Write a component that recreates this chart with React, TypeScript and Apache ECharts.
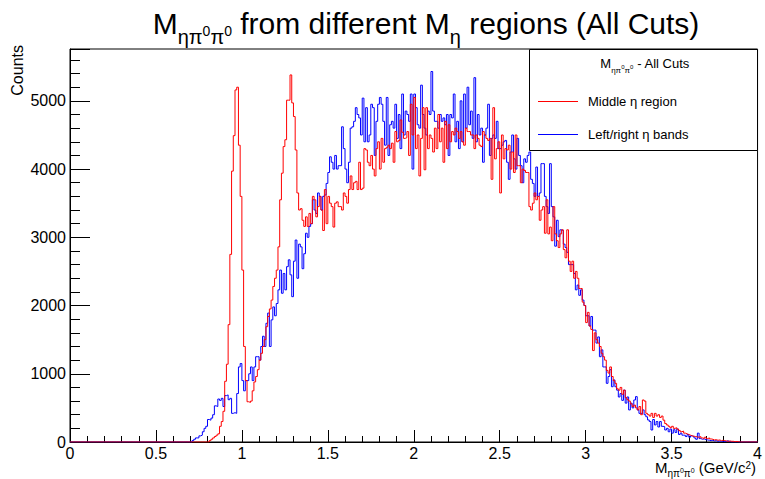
import React, { useEffect, useRef } from 'react';
import * as echarts from 'echarts';

const BIN_WIDTH = 0.01;
const N_BINS = 400;
const X_TICK_STEP = 0.5;
const Y_TICK_STEP = 1000;
const Y_MAX = 5760;

// Middle eta region (red), first bin low edge 0.80
const redStart = 0.8;
const redCounts = [
  0, 20, 40, 60, 80, 100, 120, 230, 300, 450,
  890, 1140, 1720, 2750, 3970, 4490, 5160, 5200, 4350, 3600,
  2520, 1400, 900, 590, 580, 600, 750, 880, 960, 1060,
  1200, 1300, 1400, 1500, 1690, 1840, 1950, 2080, 2280, 2400,
  2520, 2860, 3550, 3940, 4330, 4430, 5010, 5010, 5380, 4970,
  4770, 4280, 3650, 3400, 3420, 3250, 3160, 3300, 3160, 3350,
  3200, 3600, 3550, 3300, 3450, 3600, 3400, 3100, 3700, 3200,
  3600, 3500, 3450, 3150, 3500, 3520, 3450, 3450, 3400, 3650,
  3600, 3500, 3700, 3900, 3700, 3800, 3820, 3700, 4100, 3700,
  3720, 4300, 4280, 4100, 4050, 4200, 4000, 3900, 4300, 4400,
  4000, 4450, 4100, 4300, 4320, 4350, 4300, 4380, 4100, 4550,
  4400, 4420, 4720, 4540, 4450, 4460, 4550, 4200, 4950, 4500,
  5050, 4300, 4500, 3900, 4450, 4900, 3990, 4900, 4300, 4500,
  4450, 4250, 4600, 4300, 4800, 4400, 4600, 4100, 4700, 4300,
  4650, 4400, 4550, 4500, 4600, 4550, 4450, 4550, 4400, 4350,
  4600, 4550, 4550, 4500, 4500, 4300, 4500, 4450, 4350, 4330,
  4550, 4500, 4450, 4420, 4450, 3850, 4900, 4150, 4300, 4400,
  3650, 4500, 4150, 4300, 4280, 4350, 4000, 4250, 3950, 4500,
  4050, 4050, 3800, 4000, 3980, 3950, 3950, 3450, 3400, 3500,
  3650, 3550, 3600, 3250, 3400, 3450, 3060, 3550, 3050, 3150,
  2950, 3450, 3050, 2950, 2850, 3050, 3110, 2820, 2700, 3110,
  2650, 2500, 2650, 2400, 2500, 2400, 2250, 2250, 2050, 2000,
  1750, 1900, 1700, 1650, 1340, 1600, 1500, 1450, 1400, 1300,
  1250, 1200, 1050, 1010, 1100, 960, 900, 860, 780, 760,
  800, 700, 760, 650, 620, 600, 560, 520, 540, 500,
  470, 520, 400, 616, 600, 420, 400, 380, 420, 360,
  420, 380, 400, 360, 380, 320, 270, 250, 230, 210,
  230, 200, 210, 190, 170, 150, 160, 130, 120, 110,
  100, 90, 85, 80, 75, 70, 80, 60, 50, 70,
  50, 60, 45, 40, 30, 35, 25, 30, 20, 25,
  20, 15, 10, 15, 10, 10, 5, 8, 5, 0,
];

// Left/right eta bands (blue), first bin low edge 0.70
const blueStart = 0.7;
const blueCounts = [
  0, 20, 40, 60, 60, 90, 100, 150, 200, 230,
  330, 320, 350, 400, 530, 520, 630, 610, 640, 520,
  680, 690, 620, 640, 420, 430, 420, 710, 1100, 1150,
  900, 750, 900, 900, 1000, 1100, 900, 1100, 1250, 1250,
  1200, 1400, 1550, 1400, 1740, 1890, 1400, 1790, 1980, 1850,
  2030, 2230, 2520, 2180, 2470, 2230, 2570, 2670, 2450, 2130,
  2650, 2960, 2400, 2900, 2860, 2540, 2760, 3060, 3000, 3160,
  3200, 3550, 3400, 3350, 3650, 3600, 3400, 3600, 3620, 3790,
  3950, 4180, 4100, 4000, 4200, 4000, 4050, 4050, 4620, 4300,
  4000, 3800, 4100, 4600, 4620, 4700, 4900, 4800, 4750, 4500,
  5040, 4400, 4900, 4400, 4500, 4950, 4900, 4200, 4700, 4950,
  5050, 4950, 4700, 4350, 5050, 4200, 4650, 4700, 4600, 4950,
  4450, 4800, 4300, 5100, 4500, 4850, 4800, 4700, 5100, 4000,
  5100, 4900, 4650, 4600, 5230, 4800, 4600, 4500, 4850, 4800,
  5430, 4850, 4700, 4700, 4600, 4800, 4700, 4750, 4650, 4800,
  4200, 4800, 4750, 5100, 4400, 4700, 4300, 5000, 4400, 5100,
  4600, 5200, 4650, 4850, 4450, 5340, 4400, 4800, 4500, 4600,
  4100, 4500, 4600, 4950, 4200, 4450, 4500, 4450, 4700, 4300,
  4300, 4350, 4400, 4420, 4100, 3850, 4250, 4500, 4150, 4000,
  4450, 4200, 4050, 3800, 4150, 4100, 4200, 4250, 3850, 3790,
  3600, 4030, 3600, 3650, 4080, 4080, 3600, 3450, 3350, 4080,
  3450, 3300, 2870, 3250, 3010, 3110, 3100, 2900, 2850, 2780,
  2600, 2600, 2600, 2470, 2230, 2300, 2150, 2230, 2080, 2000,
  1850, 1850, 1700, 1840, 1640, 1640, 1450, 1540, 1250, 1350,
  1100, 1100, 860, 960, 1060, 810, 910, 810, 760, 660,
  710, 610, 760, 570, 660, 470, 570, 500, 616, 665,
  470, 420, 420, 470, 400, 370, 323, 300, 176, 330,
  250, 300, 220, 300, 230, 225, 176, 200, 150, 190,
  130, 180, 140, 190, 110, 130, 100, 100, 80, 110,
  70, 90, 80, 60, 40, 130, 50, 40, 45, 35,
  30, 25, 20, 25, 15, 20, 10, 15, 10, 10,
  5, 10, 20, 5,
];

const seriesNames = ['Middle \u03b7 region', 'Left/right \u03b7 bands'];
const seriesColors = ['#ff0000', '#0000ff'];

function histData(start: number, counts: number[]): [number, number][] {
  const startBin = Math.round(start / BIN_WIDTH);
  const pts: [number, number][] = [];
  for (let i = 0; i < N_BINS; i++) {
    const k = i - startBin;
    const v = k >= 0 && k < counts.length ? counts[k] : 0;
    pts.push([+(i * BIN_WIDTH).toFixed(2), v]);
  }
  pts.push([+(N_BINS * BIN_WIDTH).toFixed(2), pts[pts.length - 1][1]]);
  return pts;
}

const FONT = "'Liberation Sans', Arial, Helvetica, sans-serif";

// rich text styles emulating TLatex sub/superscripts
function latexRich(size: number, tight = false) {
  const P = tight ? 0 : Math.round(size * 0.25);
  const lh = tight ? size : Math.round(size * 1.15);
  const base = P + lh / 2 + 0.3465 * size;
  const sSize = Math.round(size * 0.65);
  const sBase = base + 0.27 * size;
  const sCenter = sBase - 0.3465 * sSize;
  const ssSize = Math.max(6, Math.round(size * 0.45));
  const ssBase = sBase - 0.4 * sSize;
  const ssCenter = ssBase - 0.3465 * ssSize;
  const supSize = Math.round(size * 0.65);
  const supBase = base - 0.42 * size;
  const supCenter = supBase - 0.3465 * supSize;
  const common = { fontFamily: FONT, color: '#000', verticalAlign: 'top' as const };
  return {
    m: { ...common, fontSize: size, lineHeight: lh, padding: [P, 0, 0, 0] },
    s: { ...common, fontSize: sSize, lineHeight: sSize, padding: [Math.max(0, Math.round(sCenter - sSize / 2)), 0, 0, 0] },
    ss: { ...common, fontSize: ssSize, lineHeight: ssSize, padding: [Math.max(0, Math.round(ssCenter - ssSize / 2)), 0, 0, 0] },
    sup: { ...common, fontSize: supSize, lineHeight: supSize, padding: [Math.max(0, Math.round(supCenter - supSize / 2)), 0, 0, 0] },
  };
}

const MSUB = '{m|M}{s|\u03b7\u03c0}{ss|0}{s|\u03c0}{ss|0}';

export default function App() {
  const ref = useRef<HTMLDivElement>(null);
  useEffect(() => {
    if (!ref.current) return;
    const chart = echarts.init(ref.current, undefined, { renderer: 'svg' });
    const option: any = {
      animation: false,
      backgroundColor: '#fff',
      grid: { left: 70, right: 7, top: 49, bottom: 37, show: true, borderColor: '#000', borderWidth: 1, containLabel: false },
      xAxis: {
        type: 'value', min: 0, max: 4, interval: X_TICK_STEP,
        axisLine: { show: true, onZero: false, lineStyle: { color: '#000', width: 1 } },
        axisTick: { show: true, inside: true, length: 12, lineStyle: { color: '#000' } },
        minorTick: { show: true, splitNumber: 5, length: 6, lineStyle: { color: '#000' } },
        splitLine: { show: false },
        axisLabel: { color: '#000', fontSize: 16, fontFamily: FONT, margin: 3 },
      },
      yAxis: {
        type: 'value', min: 0, max: Y_MAX, interval: Y_TICK_STEP,
        axisLine: { show: true, lineStyle: { color: '#000', width: 1 } },
        axisTick: { show: true, inside: true, length: 20, lineStyle: { color: '#000' } },
        minorTick: { show: true, splitNumber: 5, length: 10, lineStyle: { color: '#000' } },
        splitLine: { show: false },
        axisLabel: {
          color: '#000', fontSize: 16, fontFamily: FONT, margin: 4,
          formatter: (v: number) => (v % Y_TICK_STEP === 0 ? String(v) : ''),
        },
      },
      series: [
        {
          name: seriesNames[1], type: 'line', step: 'end', showSymbol: false, symbol: 'none',
          data: histData(blueStart, blueCounts),
          lineStyle: { color: seriesColors[1], width: 1 }, itemStyle: { color: seriesColors[1] },
        },
        {
          name: seriesNames[0], type: 'line', step: 'end', showSymbol: false, symbol: 'none',
          data: histData(redStart, redCounts),
          lineStyle: { color: seriesColors[0], width: 1 }, itemStyle: { color: seriesColors[0] },
        },
      ],
      graphic: [
        {
          type: 'text', x: 426, y: 0, z: 10,
          style: {
            text: MSUB + '{m| from different M}{s|\u03b7}{m| regions (All Cuts)}',
            align: 'center', verticalAlign: 'top', rich: latexRich(30),
          },
        },
        {
          type: 'text', x: 756, y: 460, z: 10,
          style: {
            text: MSUB + '{m| (GeV/c}{sup|2}{m|)}',
            align: 'right', verticalAlign: 'top', rich: latexRich(15, true),
          },
        },
        {
          type: 'text', x: 17, y: 45, rotation: Math.PI / 2, z: 10,
          style: { text: 'Counts', fontSize: 16, fontFamily: FONT, fill: '#000', align: 'right', verticalAlign: 'middle' },
        },
        {
          type: 'rect', z: 10,
          shape: { x: 529.5, y: 49.5, width: 228, height: 101 },
          style: { fill: '#fff', stroke: '#000', lineWidth: 1 },
        },
        {
          type: 'text', x: 645, y: 54, z: 11,
          style: { text: MSUB + '{m| - All Cuts}', align: 'center', verticalAlign: 'top', rich: latexRich(13) },
        },
        {
          type: 'line', z: 11,
          shape: { x1: 538, y1: 101.5, x2: 578, y2: 101.5 },
          style: { stroke: seriesColors[0], lineWidth: 1 },
        },
        {
          type: 'text', x: 588, y: 101, z: 11,
          style: { text: seriesNames[0], fontSize: 13, fontFamily: FONT, fill: '#000', verticalAlign: 'middle' },
        },
        {
          type: 'line', z: 11,
          shape: { x1: 538, y1: 134.5, x2: 578, y2: 134.5 },
          style: { stroke: seriesColors[1], lineWidth: 1 },
        },
        {
          type: 'text', x: 588, y: 134, z: 11,
          style: { text: seriesNames[1], fontSize: 13, fontFamily: FONT, fill: '#000', verticalAlign: 'middle' },
        },
      ],
    };
    chart.setOption(option);
    return () => chart.dispose();
  }, []);
  return <div ref={ref} style={{ position: 'fixed', left: 0, top: 0, width: 765, height: 479, background: '#fff' }} />;
}
